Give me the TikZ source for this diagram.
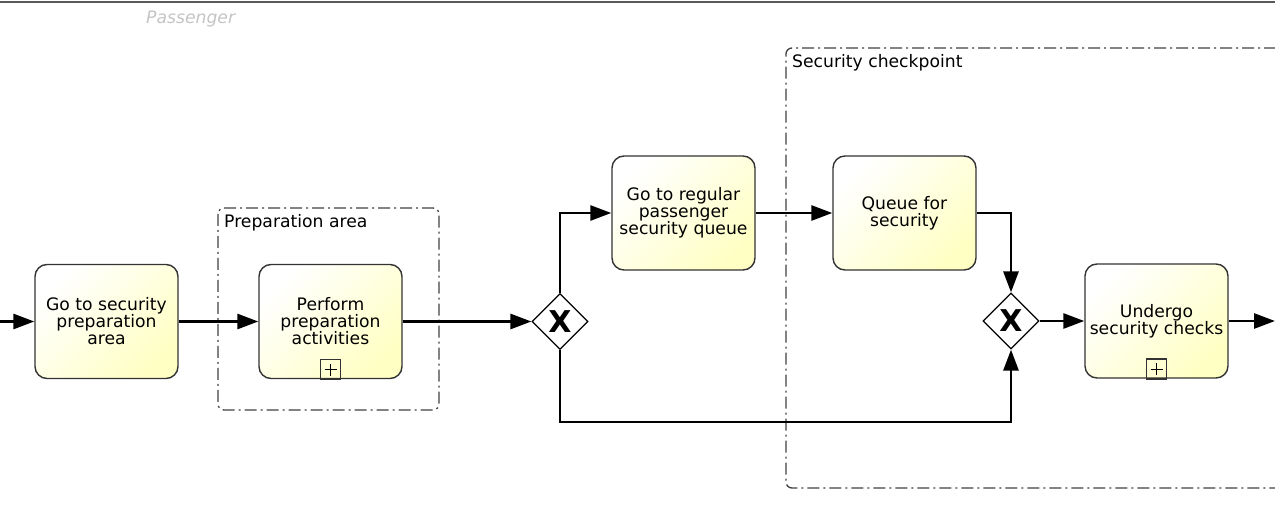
\documentclass[tikz,border=0pt]{standalone}
\usepackage{fontspec}
\setmainfont{DejaVu Sans}
\usetikzlibrary{arrows.meta,shapes.geometric}
\definecolor{taskfill}{HTML}{FFFFC4}
\definecolor{taskline}{HTML}{333333}
\definecolor{groupline}{HTML}{404040}
\definecolor{lanetext}{HTML}{C4C4C4}
\tikzset{
  task/.style={rectangle, rounded corners=12pt, draw=taskline, line width=1.4pt,
    top color=white, bottom color=taskfill, shading angle=45,
    minimum width=143pt, minimum height=114pt, align=center, inner sep=0pt,
    font=\fontsize{17.2}{17}\selectfont},
  gateway/.style={diamond, draw=black, line width=1.2pt, fill=white,
    minimum width=56pt, minimum height=56pt, inner sep=0pt,
    font=\fontsize{30}{30}\selectfont\bfseries},
  submark/.style={rectangle, draw=taskline, line width=1.2pt, minimum size=20pt,
    inner sep=0pt, anchor=south},
  flow/.style={line width=2.8pt, -{Triangle[length=21pt,width=15pt]}},
  grouppath/.style={draw=groupline, line width=1.3pt, rounded corners=6pt,
    dash pattern=on 12pt off 4pt on 2pt off 4pt},
  grouplabel/.style={anchor=base west, inner sep=0pt,
    font=\fontsize{17.2}{17}\selectfont},
}
\begin{document}
\begin{tikzpicture}[x=1pt,y=-1pt]
\useasboundingbox (0,0) rectangle (1275,529);

% lane header
\draw[draw=black!65, line width=2pt] (0,2.5) -- (1275,2.5);
\node[anchor=base west, inner sep=0pt, text=lanetext,
  font=\fontsize{17.2}{17}\selectfont\itshape] (lane) at (146,24) {Passenger};

% groups
\draw[grouppath] (218,208) rectangle (439,410);
\node[grouplabel] (prepl) at (224,228) {Preparation area};
\draw[grouppath] (1276,48) -- (786,48) -- (786,488) -- (1276,488);
\node[grouplabel] (secl) at (792,68) {Security checkpoint};

% tasks
\node[task] (t1) at (106.5,321.5) {Go to security\\preparation\\area};
\node[task] (t2) at (330.5,321.5) {Perform\\preparation\\activities};
\node[task] (t3) at (683.5,213) {Go to regular\\passenger\\security queue};
\node[task] (t4) at (904.5,213) {Queue for\\security};
\node[task] (t5) at (1156.5,321) {Undergo\\security checks};

% subprocess markers
\node[submark] (m2) at ([yshift=-1pt]t2.south) {};
\draw[line width=1.1pt] ([xshift=-6pt]m2.center) -- ([xshift=6pt]m2.center)
  ([yshift=-6pt]m2.center) -- ([yshift=6pt]m2.center);
\node[submark] (m5) at ([yshift=-1pt]t5.south) {};
\draw[line width=1.1pt] ([xshift=-6pt]m5.center) -- ([xshift=6pt]m5.center)
  ([yshift=-6pt]m5.center) -- ([yshift=6pt]m5.center);

% gateways
\node[gateway] (g1) at (560,321.5) {X};
\node[gateway] (g2) at (1011,321) {X};

% flows
\coordinate (in) at (0,321.5);
\coordinate (out) at (1275,321);
\coordinate (low) at (560,422);
\draw[flow] (in) -- (t1.west);
\draw[flow] (t1.east) -- (t2.west);
\draw[flow] (t2.east) -- (g1.west);
\draw[flow] (g1.north) |- (t3.west);
\draw[flow] (t3.east) -- (t4.west);
\draw[flow] (t4.east) -| (g2.north);
\draw[flow] (g1.south) -- (low) -| (g2.south);
\draw[flow] (g2.east) -- (t5.west);
\draw[flow] (t5.east) -- (out);
\end{tikzpicture}
\end{document}
